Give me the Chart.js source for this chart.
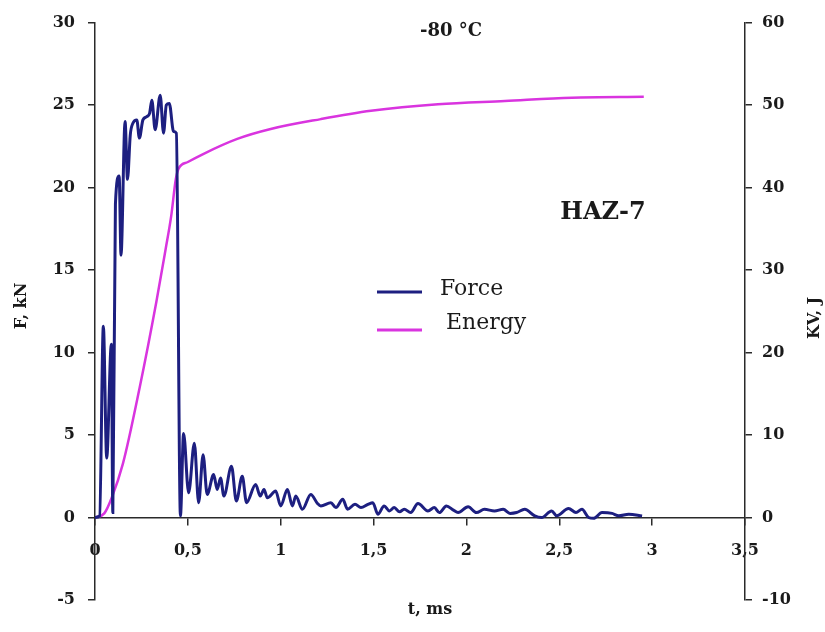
<!DOCTYPE html>
<html>
<head>
<meta charset="utf-8">
<title>Force / Energy, HAZ-7, -80 °C</title>
<script src="https://cdn.jsdelivr.net/npm/chart.js@4.4.0/dist/chart.umd.min.js"></script>
<style>
  html, body { margin: 0; padding: 0; background: #fff; }
  #wrap { width: 825px; height: 632px; }
</style>
</head>
<body>
<div id="wrap"><canvas id="chart" width="825" height="632"></canvas></div>
<script>
// readings: t in ms, F in kN, KV in J
const forceTime = [
  0, 0.025, 0.045, 0.063, 0.088, 0.096, 0.11, 0.13, 0.14, 0.162,
  0.175, 0.19, 0.204, 0.225, 0.239, 0.258, 0.279, 0.294, 0.306, 0.324,
  0.351, 0.369, 0.384, 0.40, 0.423, 0.438, 0.46, 0.477, 0.504, 0.535,
  0.558, 0.582, 0.604, 0.639, 0.658, 0.676, 0.694, 0.735, 0.761, 0.793,
  0.816, 0.865, 0.89, 0.91, 0.928, 0.973, 1.0, 1.036, 1.063, 1.081,
  1.117, 1.162, 1.198, 1.216, 1.27, 1.297, 1.334, 1.36, 1.40, 1.432,
  1.47, 1.496, 1.523, 1.557, 1.585, 1.611, 1.64, 1.665, 1.70, 1.739,
  1.793, 1.827, 1.854, 1.892, 1.93, 1.955, 2.009, 2.054, 2.097, 2.151,
  2.198, 2.235, 2.27, 2.314, 2.368, 2.405, 2.459, 2.486, 2.55, 2.59,
  2.622, 2.658, 2.685, 2.73, 2.784, 2.82, 2.874, 2.946
];
const forceValues = [
  0, 0.1, 11.6, 3.6, 10.5, 0.3, 19.0, 20.7, 15.9, 24.0,
  20.5, 23.2, 23.9, 24.1, 23.0, 24.1, 24.3, 24.5, 25.3, 23.5,
  25.6, 23.3, 25.0, 25.1, 23.4, 23.3, 0.1, 5.1, 1.5, 4.5,
  0.9, 3.8, 1.4, 2.6, 1.7, 2.4, 1.3, 3.1, 1.0, 2.5,
  0.9, 2.0, 1.3, 1.7, 1.2, 1.6, 0.7, 1.7, 0.7, 1.3,
  0.5, 1.4, 0.85, 0.7, 0.9, 0.6, 1.1, 0.5, 0.8, 0.6,
  0.8, 0.9, 0.2, 0.7, 0.4, 0.6, 0.35, 0.5, 0.3, 0.85,
  0.4, 0.6, 0.3, 0.7, 0.45, 0.3, 0.65, 0.3, 0.5, 0.4,
  0.5, 0.25, 0.3, 0.5, 0.1, 0.0, 0.4, 0.1, 0.55, 0.3,
  0.5, 0.0, -0.05, 0.3, 0.25, 0.1, 0.2, 0.1
];
const energyTime = [
  0, 0.05, 0.09, 0.15, 0.24, 0.33, 0.38, 0.41, 0.435, 0.45,
  0.5, 0.585, 0.766, 0.946, 1.216, 1.486, 1.847, 2.207, 2.568, 2.955
];
const energyValues = [
  0, 0.5, 2.4, 6.5, 15.7, 26.1, 32.5, 36.5, 41.0, 42.3,
  43.1, 44.1, 45.9, 47.1, 48.3, 49.3, 50.1, 50.5, 50.9, 51.0
];
const xTickLabels = ['0', '0,5', '1', '1,5', '2', '2,5', '3', '3,5'];
const seriesNames = ['Force', 'Energy'];
const seriesColors = ['#1d1f80', '#d934df'];

const serif = '"DejaVu Serif", "Liberation Serif", serif';
const axisColor = '#2a2a2a';

const toPoints = (xs, ys) => xs.map((x, i) => ({ x: x, y: ys[i] }));

// free text, axis titles and the legend box inside the plot
const textLayer = {
  id: 'textLayer',
  afterDraw(chart) {
    const ctx = chart.ctx;
    ctx.save();
    ctx.fillStyle = '#1a1a1a';
    ctx.textAlign = 'center';
    ctx.textBaseline = 'middle';

    ctx.font = 'bold 18px ' + serif;
    ctx.fillText('-80 \u00B0C', 451, 31);
    ctx.font = 'bold 24px ' + serif;
    ctx.fillText('HAZ-7', 603, 213);
    ctx.font = 'bold 16px ' + serif;
    ctx.fillText('t, ms', 430, 610);

    ctx.save();
    ctx.translate(22, 306);
    ctx.rotate(-Math.PI / 2);
    ctx.fillText('F, kN', 0, 0);
    ctx.restore();
    ctx.save();
    ctx.translate(815, 318);
    ctx.rotate(-Math.PI / 2);
    ctx.fillText('KV, J', 0, 0);
    ctx.restore();

    // legend
    const rows = [{ y: 292, tx: 440, ty: 289 }, { y: 330, tx: 446, ty: 323 }];
    ctx.font = '22px ' + serif;
    ctx.textAlign = 'left';
    rows.forEach((r, i) => {
      ctx.strokeStyle = seriesColors[i];
      ctx.lineWidth = 3;
      ctx.beginPath();
      ctx.moveTo(377, r.y);
      ctx.lineTo(422, r.y);
      ctx.stroke();
      ctx.fillStyle = '#1a1a1a';
      ctx.fillText(seriesNames[i], r.tx, r.ty);
    });
    ctx.restore();
  }
};

const tickFont = { family: serif, size: 16, weight: 'bold' };

new Chart(document.getElementById('chart'), {
  type: 'line',
  data: {
    datasets: [{
      label: seriesNames[0],
      data: toPoints(forceTime, forceValues),
      yAxisID: 'yF',
      borderColor: seriesColors[0],
      borderWidth: 3,
      pointRadius: 0,
      cubicInterpolationMode: 'monotone'
    }, {
      label: seriesNames[1],
      data: toPoints(energyTime, energyValues),
      yAxisID: 'yE',
      borderColor: seriesColors[1],
      borderWidth: 2.5,
      pointRadius: 0,
      cubicInterpolationMode: 'monotone'
    }]
  },
  options: {
    responsive: false,
    animation: false,
    layout: { padding: { top: 18, bottom: 32, left: 0, right: 0 } },
    plugins: {
      legend: { display: false },
      tooltip: { enabled: false }
    },
    scales: {
      x: {
        type: 'linear',
        position: { yF: 0 },
        min: 0,
        max: 3.5,
        ticks: {
          stepSize: 0.5,
          padding: 17,
          color: '#1a1a1a',
          font: tickFont,
          callback: (v) => xTickLabels[Math.round(v / 0.5)]
        },
        grid: { drawOnChartArea: false, tickLength: 7, color: axisColor, lineWidth: 1.5 },
        border: { color: axisColor, width: 1.5 }
      },
      yF: {
        position: 'left',
        min: -5,
        max: 30,
        ticks: { stepSize: 5, padding: 13, color: '#1a1a1a', font: tickFont },
        grid: { drawOnChartArea: false, tickLength: 7, color: axisColor, lineWidth: 1.5 },
        border: { color: axisColor, width: 1.5 },
        afterFit: (scale) => { scale.width = 95; }
      },
      yE: {
        position: 'right',
        min: -10,
        max: 60,
        ticks: { stepSize: 10, padding: 10, color: '#1a1a1a', font: tickFont },
        grid: { drawOnChartArea: false, tickLength: 7, color: axisColor, lineWidth: 1.5 },
        border: { color: axisColor, width: 1.5 },
        afterFit: (scale) => { scale.width = 80; }
      }
    }
  },
  plugins: [textLayer]
});
</script>
</body>
</html>
